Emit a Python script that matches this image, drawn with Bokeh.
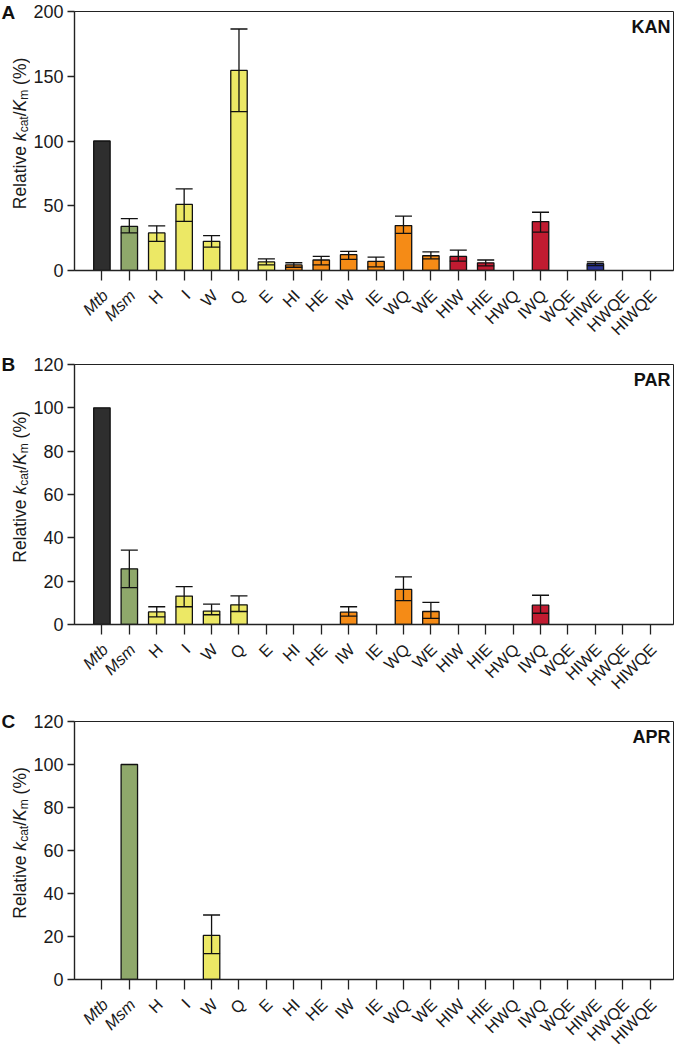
import math
from bokeh.plotting import figure
from bokeh.layouts import column, row
from bokeh.models import Label, Range1d, FixedTicker, ColumnDataSource
from bokeh.embed import file_html
from bokeh.resources import INLINE

nan = float("nan")

categories = ["Mtb", "Msm", "H", "I", "W", "Q", "E", "HI", "HE", "IW", "IE",
              "WQ", "WE", "HIW", "HIE", "HWQ", "IWQ", "WQE", "HIWE", "HWQE", "HIWQE"]
italic_categories = ["Mtb", "Msm"]
bar_colors = (["#2e2e2e", "#8fa86b"] + ["#ece865"] * 5 + ["#f58b16"] * 6
              + ["#c11b31"] * 5 + ["#2b3593"] * 3)

# Panel A: KAN
kan_mean = [100, 34, 29, 51, 22.5, 154.5, 6.6, 4.3, 8.1, 12.2, 7, 34.7, 11.4, 10.9, 5.9, nan, 37.8, nan, 5.3, nan, nan]
kan_lo = [nan, 29, 22.5, 38, 18, 122.7, 4.3, 2.5, 4.3, 8.6, 2.8, 28.6, 9, 7.3, 3.5, nan, 29.6, nan, 3.8, nan, nan]
kan_hi = [nan, 40, 34.5, 63, 27, 186.5, 8.9, 6, 10.9, 14.7, 10.4, 42, 14.4, 15.7, 8.1, nan, 45, nan, 6.6, nan, nan]

# Panel B: PAR
par_mean = [100, 25.7, 5.8, 13.1, 6.2, 9.1, nan, nan, nan, 5.7, nan, 16.2, 6, nan, nan, nan, 8.9, nan, nan, nan, nan]
par_lo = [nan, 17, 3.5, 8.2, 4.5, 6, nan, nan, nan, 3.9, nan, 11, 2.8, nan, nan, nan, 5.2, nan, nan, nan, nan]
par_hi = [nan, 34.3, 8.2, 17.5, 9.4, 13.2, nan, nan, nan, 8.2, nan, 22, 10.2, nan, nan, nan, 13.5, nan, nan, nan, nan]

# Panel C: APR
apr_mean = [nan, 100, nan, nan, 20.5, nan, nan, nan, nan, nan, nan, nan, nan, nan, nan, nan, nan, nan, nan, nan, nan]
apr_lo = [nan, nan, nan, nan, 12, nan, nan, nan, nan, nan, nan, nan, nan, nan, nan, nan, nan, nan, nan, nan, nan]
apr_hi = [nan, nan, nan, nan, 30, nan, nan, nan, nan, nan, nan, nan, nan, nan, nan, nan, nan, nan, nan, nan, nan]

ticks_a = [0, 50, 100, 150, 200]
ticks_bc = [0, 20, 40, 60, 80, 100, 120]

FONT = "Liberation Sans"
TW = 30          # width of the y-title strip
MAIN_W = 678 - TW
LEFT = 44
RIGHT = 5
BOTTOM = 12


def make_panel(mean, lo, hi, ymax, yticks, tag, letter, btop, frame_h, lab_h, letter_dy):
    main_h = btop + frame_h + BOTTOM
    p = figure(width=MAIN_W, height=main_h, x_range=Range1d(-1, 20.85),
               y_range=Range1d(0, ymax), output_backend="svg", toolbar_location=None,
               min_border_left=LEFT, min_border_right=RIGHT, min_border_top=btop,
               min_border_bottom=BOTTOM)
    p.xgrid.grid_line_color = None
    p.ygrid.grid_line_color = None
    p.outline_line_color = "#222222"
    p.outline_line_width = 1

    xs = list(range(len(categories)))
    src = ColumnDataSource(dict(x=xs, top=mean, color=bar_colors))
    p.vbar(x="x", top="top", bottom=0, width=0.6, fill_color="color",
           line_color="#111111", line_width=1.3, source=src)

    ex, elo, ehi = [], [], []
    for i in xs:
        if not math.isnan(lo[i]):
            ex.append(i); elo.append(lo[i]); ehi.append(hi[i])
    cap = 0.31
    p.segment(x0=ex, y0=elo, x1=ex, y1=ehi, line_color="#111111", line_width=1.3)
    p.segment(x0=[x - cap for x in ex], y0=elo, x1=[x + cap for x in ex], y1=elo,
              line_color="#111111", line_width=1.3)
    p.segment(x0=[x - cap for x in ex], y0=ehi, x1=[x + cap for x in ex], y1=ehi,
              line_color="#111111", line_width=1.3)

    ya = p.yaxis[0]
    ya.ticker = FixedTicker(ticks=yticks)
    ya.major_tick_out = 7
    ya.major_tick_in = 0
    ya.minor_tick_line_color = None
    ya.axis_line_width = 1.4
    ya.major_tick_line_width = 1.3
    ya.axis_line_color = "#222222"
    ya.major_tick_line_color = "#222222"
    ya.major_label_text_font = FONT
    ya.major_label_text_font_size = "18px"
    ya.major_label_text_color = "#1a1a1a"
    ya.major_label_standoff = 4

    xa = p.xaxis[0]
    xa.ticker = FixedTicker(ticks=xs)
    xa.major_tick_out = 10
    xa.major_tick_in = 0
    xa.minor_tick_line_color = None
    xa.axis_line_width = 1.4
    xa.major_tick_line_width = 1.3
    xa.axis_line_color = "#222222"
    xa.major_tick_line_color = "#222222"
    xa.major_label_overrides = {i: "" for i in xs}
    xa.major_label_text_font_size = "0px"
    xa.major_label_standoff = 0

    p.add_layout(Label(x=20.85, y=ymax, x_offset=-3, y_offset=-5, text=tag,
                       text_align="right", text_baseline="top", text_font=FONT,
                       text_font_size="18px", text_font_style="bold", text_color="#111111"))

    # category labels strip (shares the x scale of the bars)
    q = figure(width=MAIN_W, height=lab_h, x_range=p.x_range, y_range=Range1d(0, 1),
               output_backend="svg", toolbar_location=None,
               x_axis_location=None, y_axis_location=None,
               min_border_left=LEFT, min_border_right=RIGHT, min_border_top=0,
               min_border_bottom=0)
    q.outline_line_color = None
    q.grid.visible = False
    for i, c in enumerate(categories):
        q.add_layout(Label(x=i, y=1, x_offset=3, y_offset=-10, text=c, angle=math.pi / 4,
                           text_align="right", text_baseline="middle",
                           text_font=FONT, text_font_size="16.5px", text_color="#1a1a1a",
                           text_font_style="italic" if c in italic_categories else "normal"))

    # y-title strip, 1 data unit = 1 pixel
    total_h = main_h + lab_h
    t = figure(width=TW, height=total_h, x_range=Range1d(0, TW), y_range=Range1d(0, total_h),
               output_backend="svg", toolbar_location=None,
               x_axis_location=None, y_axis_location=None,
               min_border_left=0, min_border_right=0, min_border_top=0, min_border_bottom=0)
    t.outline_line_color = None
    t.grid.visible = False
    pieces = [("Relative ", 0.0, "17.5px", "normal", 0),
              ("k", 68.1, "17.5px", "italic", 0),
              ("cat", 76.9, "12px", "normal", 4),
              ("/", 92.9, "17.5px", "normal", 0),
              ("K", 97.7, "17.5px", "italic", 0),
              ("m", 109.4, "12px", "normal", 4),
              ("(%)", 124.3, "17.5px", "normal", 0)]
    total = 151.5
    centre = total_h - (btop + frame_h / 2 - 7.5)
    for txt, off, size, style, sub in pieces:
        t.add_layout(Label(x=19 + sub, y=centre - total / 2 + off,
                           text=txt, angle=math.pi / 2, text_align="left",
                           text_baseline="alphabetic", text_font=FONT, text_font_size=size,
                           text_font_style=style, text_color="#1a1a1a"))
    t.add_layout(Label(x=1, y=total_h - btop - letter_dy, text=letter,
                       text_align="left", text_baseline="middle", text_font=FONT,
                       text_font_size="19px", text_font_style="bold", text_color="#111111"))
    return row(t, column(p, q, spacing=0), spacing=0)


pa = make_panel(kan_mean, kan_lo, kan_hi, 200, ticks_a, "KAN", "A", 11, 259, 61, 0.5)
pb = make_panel(par_mean, par_lo, par_hi, 120, ticks_bc, "PAR", "B", 21, 260, 61, 0)
pc = make_panel(apr_mean, apr_lo, apr_hi, 120, ticks_bc, "APR", "C", 24, 258, 59, 0)

layout = column(pa, pb, pc, spacing=0)
open("out.html", "w").write(file_html(layout, INLINE))
